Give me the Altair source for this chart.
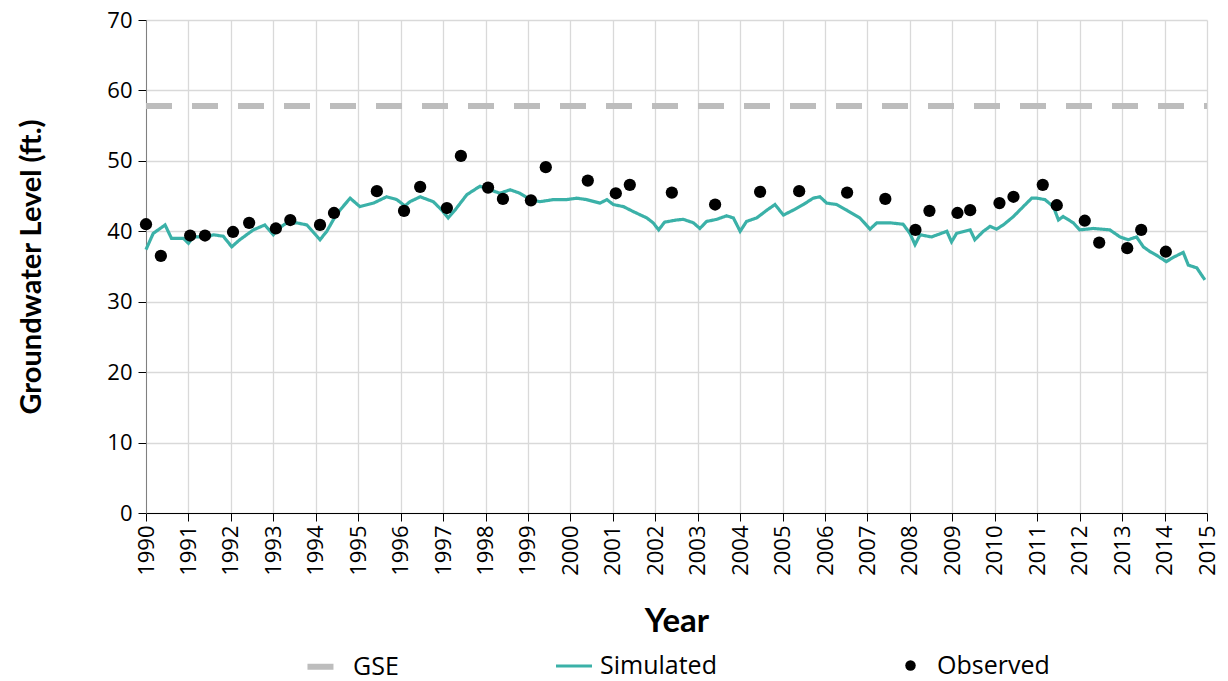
import altair as alt
import pandas as pd

# Simulated groundwater level (decimal year, ft.)
sim_year = [
    1990.00, 1990.17, 1990.45, 1990.60, 1990.88, 1991.00, 1991.11, 1991.43, 1991.59, 1991.82,
    1992.02, 1992.21, 1992.53, 1992.80, 1993.00, 1993.12, 1993.32, 1993.55, 1993.79, 1994.10,
    1994.26, 1994.41, 1994.57, 1994.81, 1995.04, 1995.36, 1995.67, 1995.91, 1996.10, 1996.22,
    1996.46, 1996.77, 1996.97, 1997.12, 1997.28, 1997.56, 1997.87, 1998.10, 1998.34, 1998.58,
    1998.81, 1999.05, 1999.28, 1999.60, 1999.91, 2000.15, 2000.38, 2000.70, 2000.86, 2001.01,
    2001.25, 2001.48, 2001.80, 2001.95, 2002.08, 2002.22, 2002.50, 2002.66, 2002.90, 2003.05,
    2003.21, 2003.45, 2003.68, 2003.84, 2004.00, 2004.15, 2004.39, 2004.63, 2004.82, 2005.02,
    2005.25, 2005.49, 2005.72, 2005.88, 2006.04, 2006.27, 2006.51, 2006.82, 2007.06, 2007.22,
    2007.53, 2007.84, 2008.00, 2008.12, 2008.24, 2008.51, 2008.87, 2008.98, 2009.10, 2009.42,
    2009.53, 2009.73, 2009.89, 2010.04, 2010.20, 2010.44, 2010.67, 2010.87, 2010.99, 2011.18,
    2011.38, 2011.50, 2011.61, 2011.85, 2012.00, 2012.32, 2012.71, 2012.95, 2013.14, 2013.34,
    2013.50, 2013.66, 2013.81, 2014.04, 2014.24, 2014.44, 2014.56, 2014.76, 2014.95,
]
sim_level = [
    37.4, 39.7, 40.9, 39.0, 39.0, 38.3, 39.2, 39.2, 39.5, 39.3,
    37.8, 38.8, 40.2, 40.9, 39.5, 40.4, 41.2, 41.2, 40.9, 38.8,
    40.0, 41.6, 43.0, 44.7, 43.5, 44.0, 44.9, 44.5, 43.6, 44.2,
    44.9, 44.2, 43.0, 41.9, 43.0, 45.2, 46.4, 45.9, 45.4, 45.9,
    45.4, 44.5, 44.2, 44.5, 44.5, 44.7, 44.5, 44.0, 44.5, 43.8,
    43.5, 42.8, 41.9, 41.2, 40.2, 41.3, 41.6, 41.7, 41.2, 40.4,
    41.4, 41.7, 42.2, 41.9, 40.0, 41.4, 41.9, 43.0, 43.8, 42.3,
    43.0, 43.8, 44.7, 44.9, 44.0, 43.8, 43.0, 41.9, 40.3, 41.2,
    41.2, 41.0, 39.7, 38.1, 39.5, 39.2, 40.0, 38.5, 39.7, 40.2,
    38.8, 40.0, 40.7, 40.3, 40.9, 42.1, 43.5, 44.7, 44.7, 44.5,
    43.5, 41.6, 42.1, 41.2, 40.2, 40.4, 40.2, 39.2, 38.8, 39.2,
    37.8, 37.1, 36.6, 35.7, 36.4, 37.0, 35.2, 34.8, 33.1,
]

# Observed groundwater level measurements
obs_year = [
    1990.00, 1990.35, 1991.04, 1991.39, 1992.05, 1992.43, 1993.06, 1993.40, 1994.10, 1994.43,
    1995.44, 1996.08, 1996.46, 1997.09, 1997.42, 1998.06, 1998.41, 1999.07, 1999.42, 2000.41,
    2001.07, 2001.40, 2002.39, 2003.41, 2004.47, 2005.39, 2006.52, 2007.42, 2008.13, 2008.46,
    2009.12, 2009.42, 2010.11, 2010.44, 2011.13, 2011.46, 2012.12, 2012.46, 2013.12, 2013.45,
    2014.03,
]
obs_level = [
    41.0, 36.5, 39.4, 39.4, 39.9, 41.2, 40.4, 41.6, 40.9, 42.6,
    45.7, 42.9, 46.3, 43.3, 50.7, 46.2, 44.6, 44.4, 49.1, 47.2,
    45.4, 46.6, 45.5, 43.8, 45.6, 45.7, 45.5, 44.6, 40.2, 42.9,
    42.6, 43.0, 44.0, 44.9, 46.6, 43.7, 41.5, 38.4, 37.6, 40.2,
    37.1,
]

# Ground surface elevation
gse_level = 57.8
year_range = [1990, 2015]

series_names = ["GSE", "Simulated"]
series_colors = ["#bdbdbd", "#3bb1a8"]

lines = pd.concat([
    pd.DataFrame({"year": year_range, "level": [gse_level, gse_level], "series": "GSE"}),
    pd.DataFrame({"year": sim_year, "level": sim_level, "series": "Simulated"}),
])
observed = pd.DataFrame({"year": obs_year, "level": obs_level, "kind": "Observed"})

FONT = "Open Sans"

x_enc = alt.X(
    "year:Q",
    scale=alt.Scale(domain=year_range, nice=False, zero=False),
    axis=alt.Axis(
        title="Year", values=list(range(1990, 2016)), format="d",
        labelAngle=270, labelFontSize=22, labelFont=FONT, labelColor="#000000",
        labelPadding=4, labelBaseline="middle", labelAlign="right",
        tickSize=8, tickColor="#000000", domainColor="#000000",
        gridColor="#d9d9d9", gridWidth=1.3,
        titleFont="Lato", titleFontSize=33, titleFontWeight="bold",
        titleColor="#000000", titlePadding=30,
    ),
)
y_enc = alt.Y(
    "level:Q",
    scale=alt.Scale(domain=[0, 70], nice=False),
    axis=alt.Axis(
        title="Groundwater Level (ft.)", values=list(range(0, 71, 10)),
        labelFontSize=22, labelFont=FONT, labelColor="#000000", labelPadding=6,
        tickSize=8, tickColor="#000000", domainColor="#808080",
        gridColor="#d9d9d9", gridWidth=1.3,
        titleFont="Lato", titleFontSize=29, titleFontWeight="bold",
        titleColor="#000000", titlePadding=60,
    ),
)

line_layer = alt.Chart(lines).mark_line(strokeCap="butt").encode(
    x=x_enc,
    y=y_enc,
    color=alt.Color(
        "series:N",
        scale=alt.Scale(domain=series_names, range=series_colors),
        legend=alt.Legend(
            title=None, orient="none", direction="horizontal",
            legendX=158, legendY=625, columnPadding=150,
            symbolType="stroke", symbolSize=1300, labelOffset=6,
            labelFont=FONT, labelFontSize=25, labelColor="#000000",
        ),
    ),
    strokeDash=alt.StrokeDash(
        "series:N",
        scale=alt.Scale(domain=series_names, range=[[26, 20], [1, 0]]),
        legend=None,
    ),
    strokeWidth=alt.StrokeWidth(
        "series:N",
        scale=alt.Scale(domain=series_names, range=[6, 3.2]),
        legend=None,
    ),
)

point_layer = alt.Chart(observed).mark_circle(size=150, opacity=1).encode(
    x="year:Q",
    y="level:Q",
    fill=alt.Fill(
        "kind:N",
        scale=alt.Scale(domain=["Observed"], range=["#000000"]),
        legend=alt.Legend(
            title=None, orient="none", legendX=752, legendY=633,
            symbolType="circle", symbolSize=110, labelOffset=14,
            labelFont=FONT, labelFontSize=25, labelColor="#000000",
        ),
    ),
)

chart = alt.layer(line_layer, point_layer).properties(
    width=1061,
    height=493,
    autosize=alt.AutoSizeParams(type="none"),
    padding={"left": 146, "top": 20, "right": 21, "bottom": 168},
    background="#ffffff",
).configure_view(stroke=None)

chart.save("out.html", embed_options={"renderer": "svg", "actions": False})
